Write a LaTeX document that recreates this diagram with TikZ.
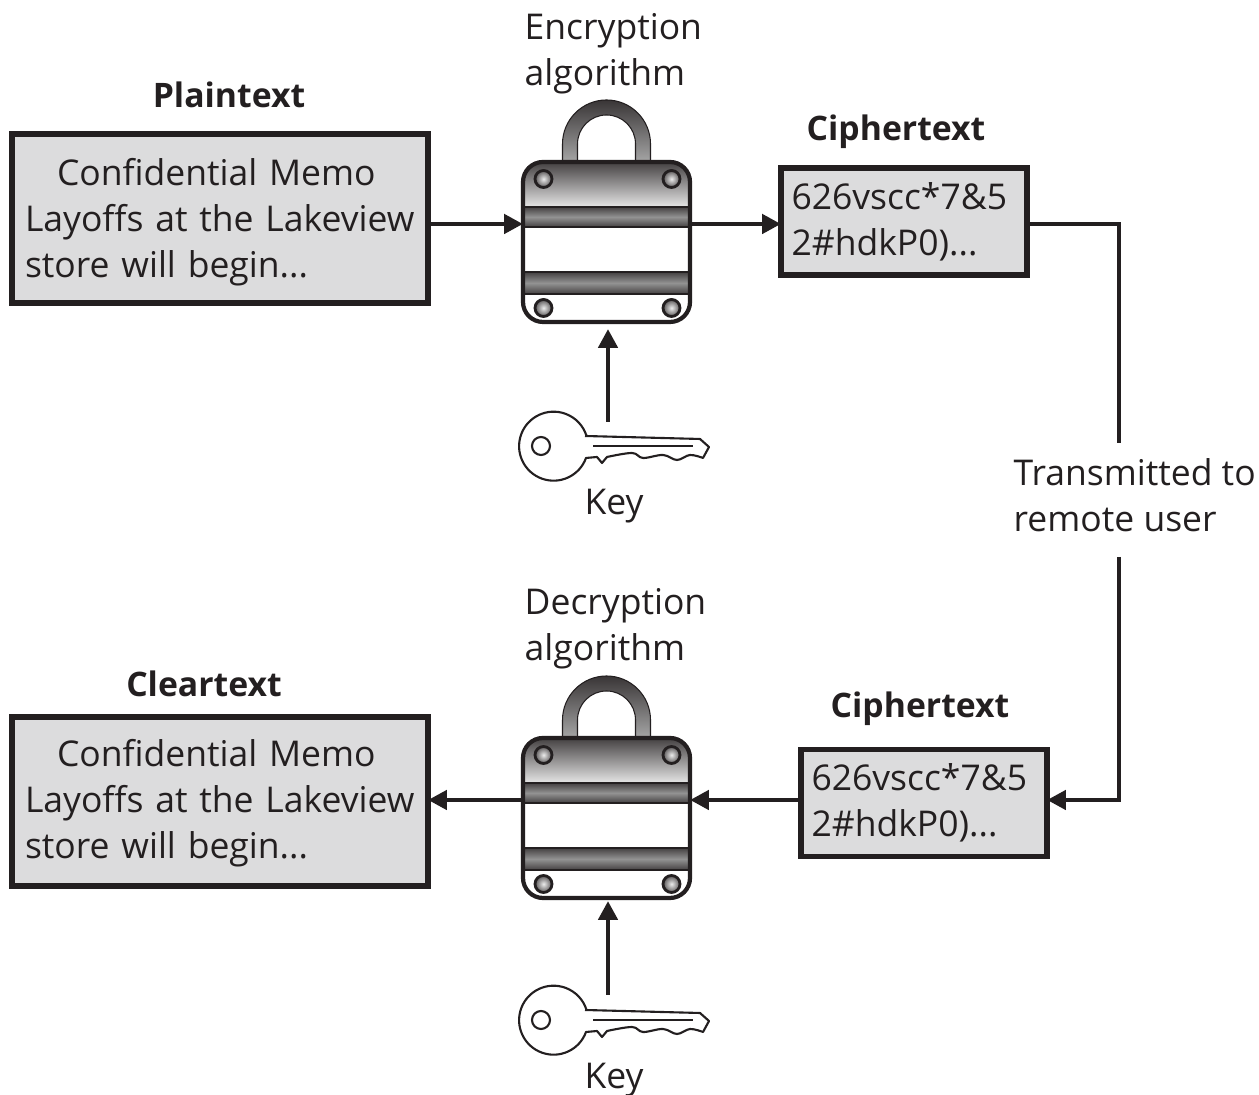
\documentclass[tikz,border=0pt]{standalone}
\usepackage{fontspec}
\setmainfont{Open Sans}
\usetikzlibrary{arrows.meta}
\definecolor{inkdark}{HTML}{231F20}
\definecolor{boxgray}{HTML}{DCDCDD}
\tikzset{
	memobox/.style={draw=inkdark, fill=boxgray, line width=1.5pt, inner sep=0pt, outer sep=0pt, align=left},
	txt/.style={text=inkdark, inner sep=0pt, align=left, font=\fontsize{10.1}{13.1}\selectfont},
	head/.style={text=inkdark, inner sep=0pt, font=\fontsize{9.6}{13.1}\selectfont\bfseries},
	wire/.style={draw=inkdark, line width=1.4pt},
	tip/.style={-{Triangle[length=5.4pt, width=5.4pt]}},
	padlock/.pic={
		\def\bx{0.835}
		\fill[white, rounded corners=0.2cm] (-\bx, 0.62) rectangle (\bx, -0.98);
		% shackle
		\shade[top color=inkdark!90, bottom color=gray!70, draw=inkdark, line width=0.3pt]
			(-0.44, 0.62) -- (-0.44, 0.80) arc[start angle=180, end angle=0, radius=0.44] -- (0.44, 0.62)
			-- (0.29, 0.62) -- (0.29, 0.80) arc[start angle=0, end angle=180, radius=0.29] -- (-0.29, 0.62) -- cycle;
		% plate and bands
		\shade[top color=inkdark!85, bottom color=gray!20]
			(-\bx, 0.17) [rounded corners=0.2cm] -- (-\bx, 0.62) -- (\bx, 0.62) [sharp corners] -- (\bx, 0.17) -- cycle;
		\shade[top color=inkdark!85, bottom color=inkdark!85, middle color=gray!85] (-\bx, 0.17) rectangle (\bx, -0.03);
		\shade[top color=inkdark!85, bottom color=inkdark!85, middle color=gray!85] (-\bx, -0.48) rectangle (\bx, -0.70);
		\draw[inkdark, line width=0.7pt] (-\bx, 0.17) -- (\bx, 0.17) (-\bx, -0.03) -- (\bx, -0.03)
			(-\bx, -0.48) -- (\bx, -0.48) (-\bx, -0.70) -- (\bx, -0.70);
		\draw[inkdark, line width=1.2pt, rounded corners=0.2cm] (-\bx, 0.62) rectangle (\bx, -0.98);
		% screws
		\foreach \sx/\sy in {-0.63/0.45, 0.65/0.45, -0.63/-0.84, 0.65/-0.84} {
			\shade[inner color=gray!15, outer color=inkdark!75, draw=inkdark, line width=0.8pt] (\sx, \sy) circle (0.085);
		}
	},
	doorkey/.pic={
		\draw[inkdark, line width=0.6pt, fill=white, line join=round]
			(0.33, 0.10) -- (1.48, 0.07) -- (1.57, -0.01)
			-- plot [smooth, tension=0.6] coordinates {
				(1.51, -0.12) (1.38, -0.09) (1.25, -0.14) (1.11, -0.09) (0.91, -0.12) (0.80, -0.07) (0.55, -0.11)
			}
			-- (0.50, -0.17) -- (0.45, -0.11) -- (0.34, -0.12)
			arc[start angle=-20, end angle=-343, radius=0.345];
		\draw[inkdark, line width=0.6pt] (-0.11, 0) circle (0.09);
		\draw[inkdark, line width=0.5pt] (0.41, 0) -- (1.41, 0);
	}
}
\begin{document}
\begin{tikzpicture}
	\useasboundingbox (0, 0) rectangle (12.59, 10.95);
	% upper half
	\node[memobox, minimum width=4.16cm, minimum height=1.69cm] (plainbox) at (2.20, 8.765) {};
	\node[txt, text width=3.9cm] (plainmemo) at (2.20, 8.725)
		{\hspace*{0.32cm}Confidential Memo\\Layoffs at the Lakeview\\store will begin...};
	\node[head] (plainhead) at (2.29, 10.00) {Plaintext};
	\node[inner sep=0pt, outer sep=0pt, minimum width=1.67cm] (enclock) at (6.065, 8.71) {};
	\pic at (enclock.center) {padlock};
	\node[txt, anchor=west] (encalgo) at (5.24, 10.41) {Encryption\\algorithm};
	\node[memobox, minimum width=2.46cm, minimum height=1.07cm, text width=2.25cm, txt] (cipherone) at (9.04, 8.735)
		{626vscc*7\&5\\2\#hdkP0)...};
	\node[head] (cipheronehead) at (8.96, 9.63) {Ciphertext};
	\pic at (5.52, 6.49) {doorkey};
	\node[txt] (enckey) at (6.14, 5.89) {Key};
	\coordinate (enckeytop) at (6.08, 6.73);
	\coordinate (enclockbase) at (6.08, 7.66);
	% right side label
	\node[txt, anchor=west] (transmit) at (10.13, 6.00) {Transmitted to\\remote user};
	\coordinate (railtop) at (11.19, 6.52);
	\coordinate (railbottom) at (11.19, 5.38);
	% lower half
	\node[memobox, minimum width=4.16cm, minimum height=1.69cm] (clearbox) at (2.20, 2.935) {};
	\node[txt, text width=3.9cm] (clearmemo) at (2.20, 2.915)
		{\hspace*{0.32cm}Confidential Memo\\Layoffs at the Lakeview\\store will begin...};
	\node[head] (clearhead) at (2.04, 4.11) {Cleartext};
	\node[inner sep=0pt, outer sep=0pt, minimum width=1.67cm] (declock) at (6.065, 2.95) {};
	\pic at (declock.center) {padlock};
	\node[txt, anchor=west] (decalgo) at (5.24, 4.66) {Decryption\\algorithm};
	\node[memobox, minimum width=2.46cm, minimum height=1.07cm, text width=2.25cm, txt] (ciphertwo) at (9.24, 2.92)
		{626vscc*7\&5\\2\#hdkP0)...};
	\node[head] (ciphertwohead) at (9.20, 3.86) {Ciphertext};
	\pic at (5.52, 0.75) {doorkey};
	\node[txt] (deckey) at (6.14, 0.15) {Key};
	\coordinate (deckeytop) at (6.08, 1.00);
	\coordinate (declockbase) at (6.08, 1.94);
	% connectors
	\draw[wire, tip] (plainbox.east |- enclock) -- (enclock.west);
	\draw[wire, tip] (enclock.east) -- (cipherone.west |- enclock);
	\draw[wire] (cipherone.east |- enclock) -| (railtop);
	\draw[wire, tip] (railbottom) |- (ciphertwo.east |- declock);
	\draw[wire, tip] (ciphertwo.west |- declock) -- (declock.east);
	\draw[wire, tip] (declock.west) -- (clearbox.east |- declock);
	\draw[wire, tip] (enckeytop) -- (enclockbase);
	\draw[wire, tip] (deckeytop) -- (declockbase);
\end{tikzpicture}
\end{document}
